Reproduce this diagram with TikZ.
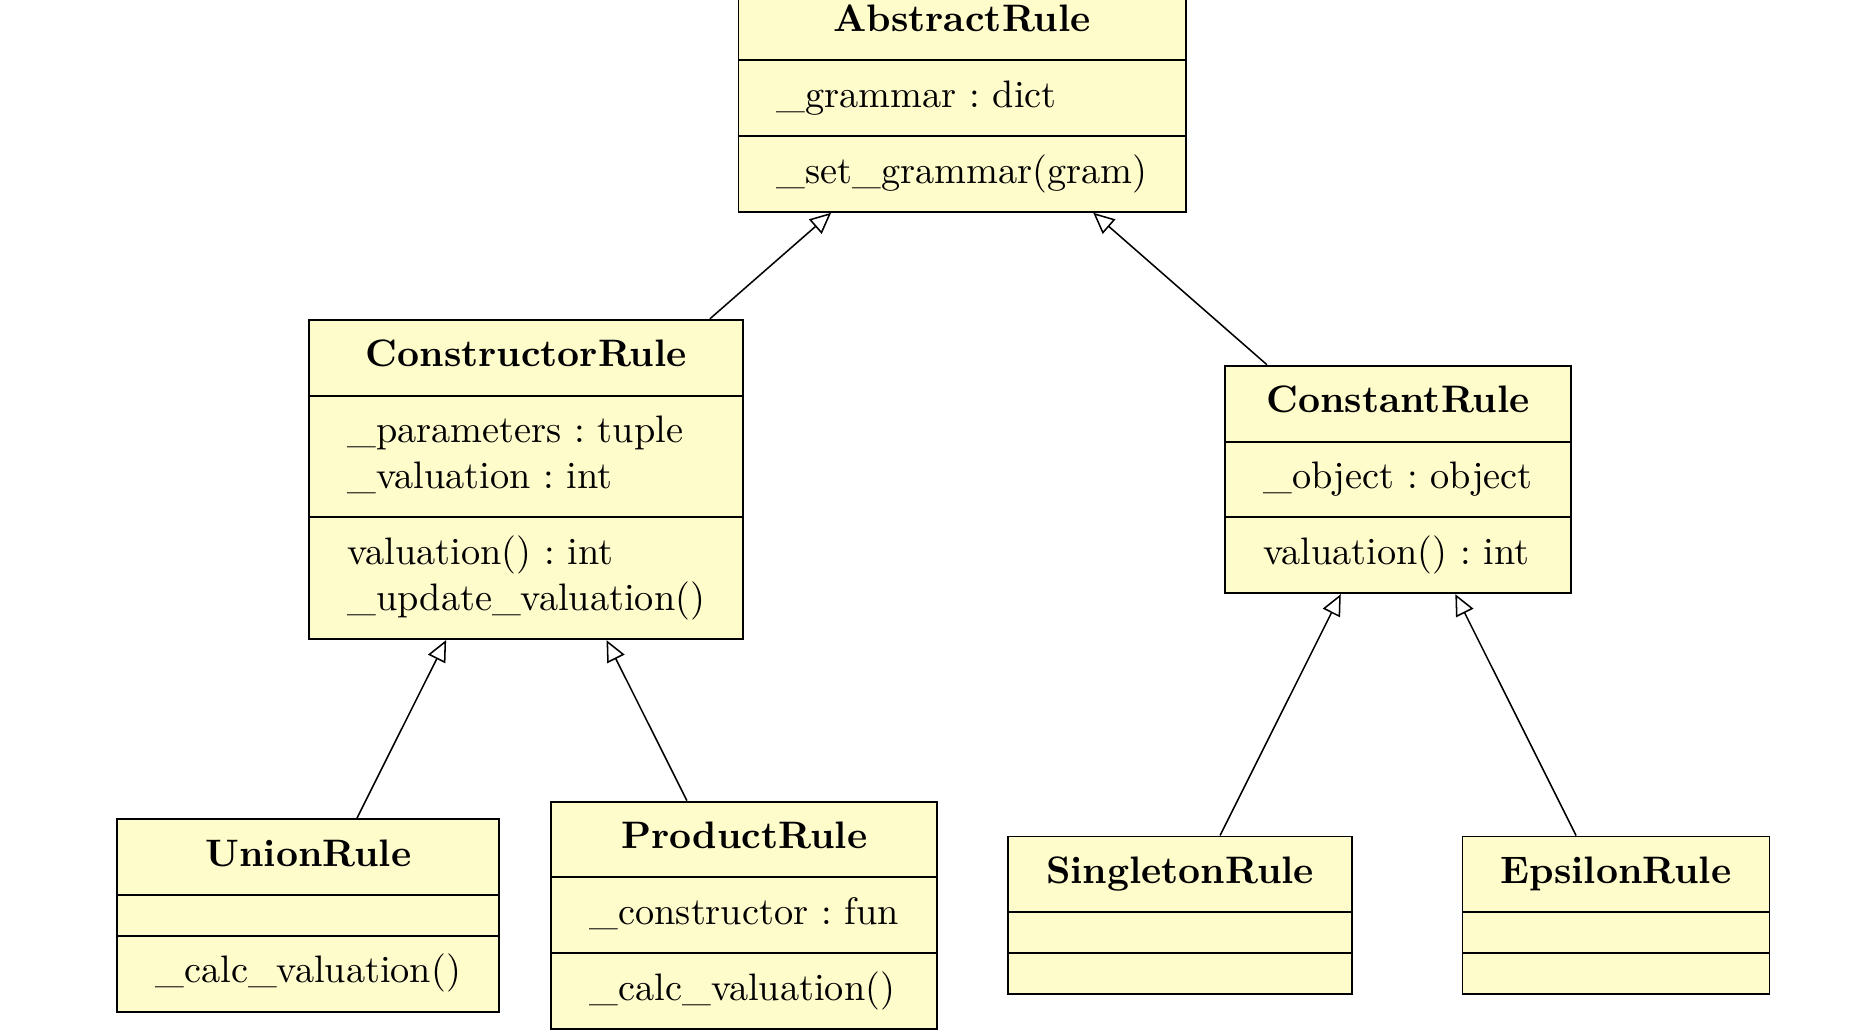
\documentclass[tikz,border=0pt]{standalone}
\usepackage{tikz}
\usetikzlibrary{shapes.multipart, arrows.meta}

\definecolor{classfill}{RGB}{255,252,204}
\frenchspacing

\tikzset{
    umlclass/.style={draw, fill=classfill, line width=0.5pt,
        rectangle split, rectangle split parts=3,
        rectangle split part align={center,left,left},
        inner xsep=10pt, inner ysep=3.65pt, anchor=center},
    inherit/.style={-{Triangle[open,length=5.5pt,width=5pt]}, line width=0.4pt}
}
\newcommand{\twolines}[2]{\begin{tabular}{@{}l@{}}\strut #1\\\strut #2\end{tabular}}
\newcommand{\emptypart}{\hbox to 1pt{\rule{0pt}{2.9pt}\hfil}}

\begin{document}
\begin{tikzpicture}
    \useasboundingbox (-8.83,-8.543) rectangle (8.175,0.90);
    % top class
    \node[umlclass] (abstract) at (0,0) {\strut\textbf{AbstractRule}
        \nodepart{two}\strut\_grammar : dict
        \nodepart{three}\strut\_set\_grammar(gram)};
    % second row
    \node[umlclass] (constructor) at (-4,-3.5) {\strut\textbf{ConstructorRule}
        \nodepart{two}\twolines{\_parameters : tuple}{\_valuation : int}
        \nodepart{three}\twolines{valuation() : int}{\_update\_valuation()}};
    \node[umlclass] (constant) at (4,-3.5) {\strut\textbf{ConstantRule}
        \nodepart{two}\strut\_object : object
        \nodepart{three}\strut valuation() : int};
    % bottom row
    \node[umlclass] (union) at (-6,-7.5) {\strut\textbf{UnionRule}
        \nodepart{two}\emptypart
        \nodepart{three}\strut\_calc\_valuation()};
    \node[umlclass] (product) at (-2,-7.5) {\strut\textbf{ProductRule}
        \nodepart{two}\strut\_constructor : fun
        \nodepart{three}\strut\_calc\_valuation()};
    \node[umlclass] (singleton) at (2,-7.5) {\strut\textbf{SingletonRule}
        \nodepart{two}\emptypart
        \nodepart{three}\emptypart};
    \node[umlclass] (epsilon) at (6,-7.5) {\strut\textbf{EpsilonRule}
        \nodepart{two}\emptypart
        \nodepart{three}\emptypart};
    % inheritance
    \draw[inherit] (constructor) -- (abstract);
    \draw[inherit] (constant) -- (abstract);
    \draw[inherit] (union) -- (constructor);
    \draw[inherit] (product) -- (constructor);
    \draw[inherit] (singleton) -- (constant);
    \draw[inherit] (epsilon) -- (constant);
\end{tikzpicture}
\end{document}
